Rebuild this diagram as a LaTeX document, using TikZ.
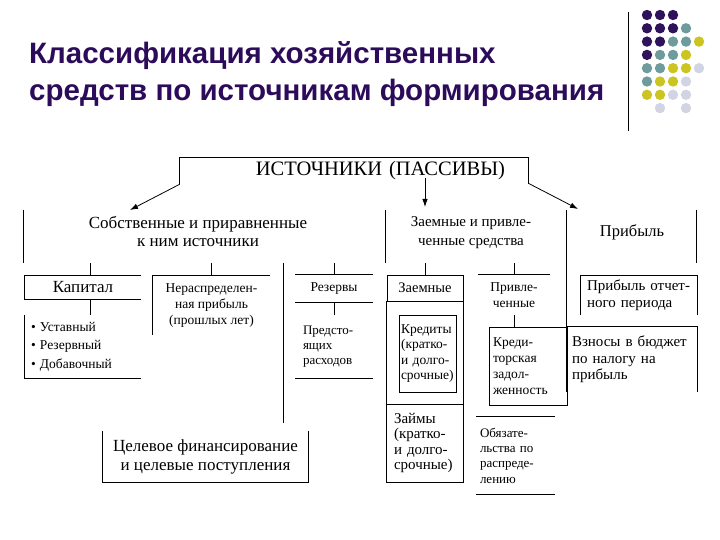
\documentclass[tikz,border=0pt]{standalone}
\usepackage{fontspec}
\setmainfont{Liberation Serif}
\newfontfamily\titlefont{Liberation Sans}
\usetikzlibrary{arrows.meta, calc}

\definecolor{titleviolet}{RGB}{44,12,90}
\definecolor{dv}{RGB}{46,18,92}
\definecolor{dt}{RGB}{110,156,156}
\definecolor{dy}{RGB}{204,196,32}
\definecolor{dl}{RGB}{210,212,228}

\newcommand{\txtsize}[2]{\fontsize{#1}{#2}\selectfont}

\begin{document}
\begin{tikzpicture}[
    x=1pt, y=-1pt,
    title/.style={inner sep=0pt, align=left, text=titleviolet,
      font=\titlefont\bfseries\txtsize{29.5}{37}},
    frame/.style={inner sep=0pt, draw=none},
    cbox/.style={inner sep=0pt, align=center},
    lbox/.style={inner ysep=0pt, align=left},
    ln/.style={line width=0.8pt, black},
    arr/.style={-{Latex[length=8pt,width=5.5pt]}, line width=0.8pt, black}
  ]
  \useasboundingbox (0,0) rectangle (720,540);

  % Title
  \node[title, anchor=west] (title) at (29,74)
    {Классификация хозяйственных\\средств по источникам формирования};
  \draw[line width=1pt] (628,12) -- (628,131);
  \foreach \cx/\cy/\cc in {0/0/dv,1/0/dv,2/0/dv,
      0/1/dv,1/1/dv,2/1/dv,3/1/dt,
      0/2/dv,1/2/dv,2/2/dt,3/2/dt,4/2/dy,
      0/3/dv,1/3/dt,2/3/dt,3/3/dy,
      0/4/dt,1/4/dt,2/4/dy,3/4/dy,4/4/dl,
      0/5/dt,1/5/dy,2/5/dy,3/5/dl,
      0/6/dy,1/6/dy,2/6/dl,3/6/dl,
      1/7/dl,3/7/dl}
    \fill[\cc] (647+13*\cx,15+13.3*\cy) circle (5.2);

  % Level 1
  \node[frame, minimum width=348, minimum height=26, text width=302,
        inner xsep=23pt, align=right, font=\txtsize{20.5}{22}]
    (src) at (354,171) {ИСТОЧНИКИ (ПАССИВЫ)};
  \draw[ln] (src.south west) -- (src.north west) -- (src.north east) -- (src.south east);

  % Level 2
  \node[frame, minimum width=259, minimum height=53] (grpown) at (153.5,236.5) {};
  \node[frame, minimum width=181, minimum height=53] (grpbrw) at (476.5,236.5) {};
  \node[frame, minimum width=129, minimum height=53] (grpprof) at (631.5,236.5) {};
  \node[cbox, font=\txtsize{17}{18}] (own) at (198,231)
    {Собственные и приравненные\\к ним источники};
  \node[cbox, font=\txtsize{15}{19}] (brw) at (471,232.5)
    {Заемные и привле-\\ченные средства};
  \node[cbox, font=\txtsize{16.5}{18}] (prof) at (632,232) {Прибыль};

  \coordinate (ownin) at (130,210);
  \coordinate (brwin) at (425,207);
  \coordinate (profin) at (578,209);
  \draw[arr] (src.south west) -- (ownin);
  \draw[arr] ($(brwin |- src.south)+(0,-6)$) -- (brwin);
  \draw[arr] ($(src.south east)+(0,-1)$) -- (profin);

  \draw[ln] (grpown.north west) -- (grpown.south west);
  \draw[ln] (grpbrw.north west) -- (grpbrw.south west);
  \draw[ln] (grpprof.north east) -- (grpprof.south east);

  % Own sources
  \node[cbox, minimum width=116, minimum height=23, font=\txtsize{17}{18}]
    (cap) at (83,287.5) {Капитал};
  \node[lbox, minimum height=63, text width=104, inner xsep=6pt, font=\txtsize{13.5}{18.5}]
    (capl) at (83,346.5)
    {\makebox[9pt][l]{•}Уставный\\\makebox[9pt][l]{•}Резервный\\\makebox[9pt][l]{•}Добавочный};
  \node[cbox, minimum width=117, minimum height=59, font=\txtsize{13.5}{16}]
    (undist) at (211.5,305.5) {Нераспределен-\\ная прибыль\\(прошлых лет)};
  \node[cbox, minimum width=78, minimum height=27, font=\txtsize{13.5}{15}]
    (res) at (334,288.5) {Резервы};
  \node[lbox, minimum height=63, text width=62, inner xsep=8pt, font=\txtsize{13}{15}]
    (resl) at (334,346.5) {Предсто-\\ящих\\расходов};
  \node[cbox, minimum width=205, minimum height=51, font=\txtsize{17}{19}]
    (tgt) at (205.5,456.5) {Целевое финансирование\\и целевые поступления};

  \draw[ln] ($(cap.north)+(7,0)$) -- ($(cap.north |- grpown.south)+(7,0)$);
  \draw[ln] (cap.north east) -- (cap.north west) -- (cap.south west) -- (cap.south east);
  \draw[ln] ($(cap.south)+(7,0)$) -- ($(capl.north)+(7,0)$);
  \draw[ln] (capl.north west) -- (capl.south west) -- (capl.south east);
  \draw[ln] (undist.north) -- (undist.north |- grpown.south);
  \draw[ln] (undist.north east) -- (undist.north west) -- (undist.south west);
  \draw[ln] (res.north) -- (res.north |- grpown.south);
  \draw[ln] (res.north west) -- (res.north east);
  \draw[ln] (res.south west) -- (res.south east);
  \draw[ln] (res.south) -- (resl.north);
  \draw[ln] (resl.south west) -- (resl.south east);
  \draw[ln] (grpown.south east) -- ($(grpown.south east |- tgt.north)+(0,-8)$);
  \draw[ln] (tgt.north west) -- (tgt.south west) -- (tgt.south east) -- (tgt.north east);

  % Borrowed sources
  \node[cbox, draw, line width=0.8pt, minimum width=76, minimum height=26, font=\txtsize{14.5}{16}]
    (zem) at (425,288) {Заемные};
  \node[lbox, draw, line width=0.8pt, minimum height=77, text width=53, inner xsep=2pt,
        font=\txtsize{13.5}{15.5}]
    (kred) at (427.5,353.5) {Кредиты\\(кратко-\\и долго-\\срочные)};
  \node[lbox, draw, line width=0.8pt, minimum height=78, text width=61, inner xsep=8pt,
        font=\txtsize{15}{15.3}]
    (zaim) at (424.5,443) {Займы\\(кратко-\\и долго-\\срочные)};
  \node[cbox, minimum width=72, minimum height=40, font=\txtsize{13.5}{16}]
    (priv) at (514,295) {Привле-\\ченные};
  \node[lbox, draw, line width=0.8pt, minimum height=78, text width=70, inner xsep=4pt,
        font=\txtsize{13.5}{16}]
    (kz) at (528,366) {Креди-\\торская\\задол-\\женность};
  \node[lbox, minimum height=77, text width=71, inner xsep=4pt, font=\txtsize{13}{15.3}]
    (obl) at (515.5,455.5) {Обязате-\\льства по\\распреде-\\лению};

  \draw[ln] (zem.north) -- (zem.north |- grpbrw.south);
  \draw[ln] (zem.south west) -- (zem.south west |- zaim.north);
  \draw[ln] (zem.south east) -- (zem.south east |- zaim.north);
  \draw[ln] (priv.north) -- (priv.north |- grpbrw.south);
  \draw[ln] (priv.north west) -- (priv.north east);
  \draw[ln] (priv.south) -- (priv.south |- kz.north);
  \draw[ln] (obl.north west) -- (obl.north east);
  \draw[ln] (obl.south west) -- (obl.south east);

  % Profit
  \node[lbox, minimum height=39, text width=104, inner xsep=6pt, font=\txtsize{15}{17}]
    (po) at (639,295.5) {Прибыль отчет-\\ного периода};
  \node[lbox, minimum height=65, text width=120, inner xsep=5pt, font=\txtsize{15}{16.5}]
    (vzn) at (632,359.5) {Взносы в бюджет\\по налогу на\\прибыль};

  \draw[ln] (grpprof.north west) -- (grpprof.west |- vzn.south);
  \draw[ln] (po.south west) -- (po.north west) -- (po.north east) -- (po.south east);
  \draw[ln] (vzn.south west) -- (vzn.north west) -- (vzn.north east) -- (vzn.south east);
\end{tikzpicture}
\end{document}
